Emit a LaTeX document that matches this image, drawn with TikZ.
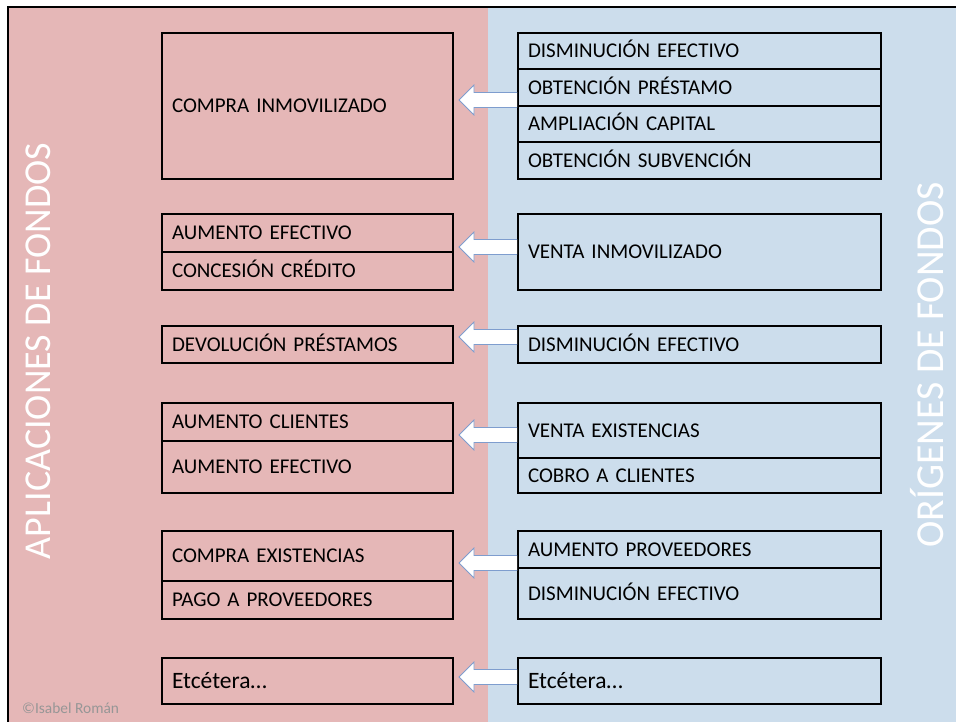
\documentclass[tikz,border=0pt]{standalone}
\usepackage{fontspec}
\setmainfont{Carlito}
\usetikzlibrary{positioning,calc}
\definecolor{rosa}{RGB}{229,183,183}
\definecolor{azul}{RGB}{204,221,236}
\definecolor{bordeflecha}{RGB}{126,157,206}
\definecolor{firma}{RGB}{150,150,150}
\tikzset{
    celda/.style = {draw=black, line width=2pt, rectangle, outer sep=0pt, inner xsep=10pt, inner ysep=0pt, align=left, text height=13.5pt, text depth=0pt, anchor=north west, font=\fontsize{21}{25}\selectfont},
    celda-izq/.style = {celda, text width=271pt},
    celda-der/.style = {celda, text width=343pt},
    flecha/.style = {draw=bordeflecha, fill=white, line width=0.8pt, line join=miter},
    titulo/.style = {text=white, rotate=90, text height=24pt, text depth=0pt, font=\fontsize{38}{40}\selectfont},
}
% flecha de #1 (origen) a #2 (aplicacion) a la altura #3
\newcommand{\flecha}[3]{%
  \coordinate (h) at (0,#3);
  \coordinate (base) at ($(#1.west |- h)+(-1,0)$);
  \coordinate (punta) at ($(#2.east |- h)+(6,0)$);
  \filldraw[flecha] ($(base)+(0,7.5)$) -- ($(punta)+(15,7.5)$) -- ++(0,7.5) -- (punta) -- ++(15,-15) -- ++(0,7.5) -- ($(base)+(0,-7.5)$);
}

\begin{document}
\begin{tikzpicture}[x=1pt,y=-1pt]
\useasboundingbox (0,0) rectangle (956,722);
% fondo
\fill[rosa] (8,7) rectangle (488,730);
\fill[azul] (488,7) rectangle (960,730);
\draw[line width=1.5pt] (8,730) -- (8,7) -- (960,7);
\node[titulo] (aplicaciones) at (38,351) {APLICACIONES DE FONDOS};
\node[titulo, font=\fontsize{39.7}{42}\selectfont, text height=25pt] (origenes) at (931,365) {ORÍGENES DE FONDOS};
\node[text=firma, anchor=west, inner xsep=0pt, font=\fontsize{15.4}{17}\selectfont] (autora) at (22,708) {©Isabel Román};

% inmovilizado
\node[celda-izq, minimum height=146pt] (compra-inm) at (162,33) {COMPRA INMOVILIZADO};
\node[celda-der, minimum height=36.5pt] (dism-ef1) at (518,33) {DISMINUCIÓN EFECTIVO};
\node[celda-der, minimum height=36.5pt, below=0pt of dism-ef1] (prestamo) {OBTENCIÓN PRÉSTAMO};
\node[celda-der, minimum height=36.5pt, below=0pt of prestamo] (capital) {AMPLIACIÓN CAPITAL};
\node[celda-der, minimum height=36.5pt, below=0pt of capital] (subvencion) {OBTENCIÓN SUBVENCIÓN};

% venta inmovilizado
\node[celda-izq, minimum height=38pt] (aum-ef1) at (162,214) {AUMENTO EFECTIVO};
\node[celda-izq, minimum height=38pt, below=0pt of aum-ef1] (credito) {CONCESIÓN CRÉDITO};
\node[celda-der, minimum height=76pt] (venta-inm) at (518,214) {VENTA INMOVILIZADO};

% prestamos
\node[celda-izq, minimum height=37pt] (devolucion) at (162,326) {DEVOLUCIÓN PRÉSTAMOS};
\node[celda-der, minimum height=37pt] (dism-ef2) at (518,326) {DISMINUCIÓN EFECTIVO};

% ventas
\node[celda-izq, minimum height=38pt] (aum-clientes) at (162,403) {AUMENTO CLIENTES};
\node[celda-izq, minimum height=52pt, below=0pt of aum-clientes] (aum-ef2) {AUMENTO EFECTIVO};
\node[celda-der, minimum height=55pt] (venta-ex) at (518,403) {VENTA EXISTENCIAS};
\node[celda-der, minimum height=35pt, below=0pt of venta-ex] (cobro) {COBRO A CLIENTES};

% compras
\node[celda-izq, minimum height=50pt] (compra-ex) at (162,531) {COMPRA EXISTENCIAS};
\node[celda-izq, minimum height=38pt, below=0pt of compra-ex] (pago) {PAGO A PROVEEDORES};
\node[celda-der, minimum height=37pt] (aum-prov) at (518,531) {AUMENTO PROVEEDORES};
\node[celda-der, minimum height=51pt, below=0pt of aum-prov] (dism-ef3) {DISMINUCIÓN EFECTIVO};

% etcetera
\node[celda-izq, minimum height=46pt, text height=15pt, font=\fontsize{23.5}{27}\selectfont] (etc-izq) at (162,658) {Etcétera…};
\node[celda-der, minimum height=46pt, text height=15pt, font=\fontsize{23.5}{27}\selectfont] (etc-der) at (518,658) {Etcétera…};

% flechas
\flecha{prestamo}{compra-inm}{100}
\flecha{venta-inm}{aum-ef1}{247}
\flecha{dism-ef2}{devolucion}{337}
\flecha{venta-ex}{aum-clientes}{435}
\flecha{aum-prov}{compra-ex}{563}
\flecha{etc-der}{etc-izq}{677}
\end{tikzpicture}
\end{document}
